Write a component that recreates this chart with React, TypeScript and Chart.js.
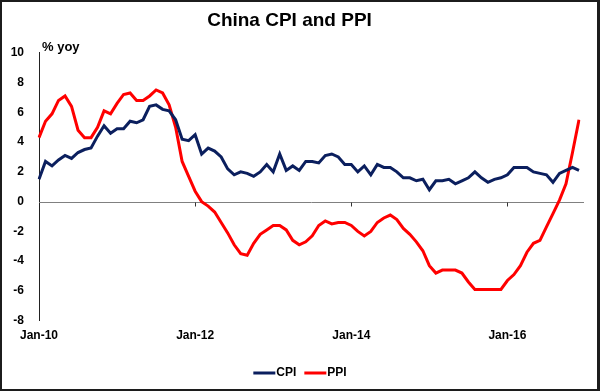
import { useEffect, useRef } from "react";
import { Chart, registerables } from "chart.js";

Chart.register(...registerables);

const years = ["10", "11", "12", "13", "14", "15", "16"];
const monthNames = ["Jan", "Feb", "Mar", "Apr", "May", "Jun", "Jul", "Aug", "Sep", "Oct", "Nov", "Dec"];
const months: string[] = [];
years.forEach((y) => monthNames.forEach((m) => months.push(`${m}-${y}`)));

const tickLabels = ["Jan-10", "Jan-12", "Jan-14", "Jan-16"];
const yTicks = { min: -8, max: 10, step: 2 };
const yUnit = "% yoy";
const title = "China CPI and PPI";

const cpi = [
  1.5, 2.7, 2.4, 2.8, 3.1, 2.9, 3.3, 3.5, 3.6, 4.4, 5.1, 4.6,
  4.9, 4.9, 5.4, 5.3, 5.5, 6.4, 6.5, 6.2, 6.1, 5.5, 4.2, 4.1,
  4.5, 3.2, 3.6, 3.4, 3.0, 2.2, 1.8, 2.0, 1.9, 1.7, 2.0, 2.5,
  2.0, 3.2, 2.1, 2.4, 2.1, 2.7, 2.7, 2.6, 3.1, 3.2, 3.0, 2.5,
  2.5, 2.0, 2.4, 1.8, 2.5, 2.3, 2.3, 2.0, 1.6, 1.6, 1.4, 1.5,
  0.8, 1.4, 1.4, 1.5, 1.2, 1.4, 1.6, 2.0, 1.6, 1.3, 1.5, 1.6,
  1.8, 2.3, 2.3, 2.3, 2.0, 1.9, 1.8, 1.3, 1.9, 2.1, 2.3, 2.1,
];

const ppi = [
  4.3, 5.4, 5.9, 6.8, 7.1, 6.4, 4.8, 4.3, 4.3, 5.0, 6.1, 5.9,
  6.6, 7.2, 7.3, 6.8, 6.8, 7.1, 7.5, 7.3, 6.5, 5.0, 2.7, 1.7,
  0.7, 0.0, -0.3, -0.7, -1.4, -2.1, -2.9, -3.5, -3.6, -2.8, -2.2, -1.9,
  -1.6, -1.6, -1.9, -2.6, -2.9, -2.7, -2.3, -1.6, -1.3, -1.5, -1.4, -1.4,
  -1.6, -2.0, -2.3, -2.0, -1.4, -1.1, -0.9, -1.2, -1.8, -2.2, -2.7, -3.3,
  -4.3, -4.8, -4.6, -4.6, -4.6, -4.8, -5.4, -5.9, -5.9, -5.9, -5.9, -5.9,
  -5.3, -4.9, -4.3, -3.4, -2.8, -2.6, -1.7, -0.8, 0.1, 1.2, 3.3, 5.5,
];

const seriesNames = ["CPI", "PPI"];
const seriesColors = ["#0b1f5e", "#ff0000"];

const FONT = "'Liberation Sans', Arial, sans-serif";

const overlayPlugin = {
  id: "overlay",
  beforeDatasetsDraw(chart: any) {
    const { ctx, chartArea, scales } = chart;
    const y0 = Math.round(scales.y.getPixelForValue(0)) + 0.5;
    ctx.save();
    ctx.strokeStyle = "#808080";
    ctx.lineWidth = 1;
    ctx.beginPath();
    ctx.moveTo(chartArea.left, y0);
    ctx.lineTo(chartArea.right + 5, y0);
    ctx.stroke();
    ctx.strokeStyle = "#333";
    months.forEach((m, i) => {
      if (i > 0 && tickLabels.includes(m)) {
        const x = Math.round(scales.x.getPixelForValue(i)) + 0.5;
        ctx.beginPath();
        ctx.moveTo(x, y0);
        ctx.lineTo(x, y0 + 4);
        ctx.stroke();
      }
    });
    ctx.restore();
  },
  afterDraw(chart: any) {
    const { ctx } = chart;
    ctx.save();
    ctx.fillStyle = "#000";
    ctx.font = `bold 13px ${FONT}`;
    ctx.textAlign = "left";
    ctx.textBaseline = "middle";
    ctx.fillText(yUnit, 42, 47);

    // legend
    ctx.font = `bold 12px ${FONT}`;
    const lineLen = 22;
    const gap = 1;
    const itemGap = 8;
    const widths = seriesNames.map((n) => lineLen + gap + ctx.measureText(n).width);
    const total = widths.reduce((a, b) => a + b, 0) + itemGap * (widths.length - 1);
    let x = 300 - total / 2;
    const ly = 373;
    seriesNames.forEach((n, i) => {
      ctx.strokeStyle = seriesColors[i];
      ctx.lineWidth = 3;
      ctx.beginPath();
      ctx.moveTo(x, ly);
      ctx.lineTo(x + lineLen, ly);
      ctx.stroke();
      ctx.fillStyle = "#000";
      ctx.fillText(n, x + lineLen + gap, ly);
      x += widths[i] + itemGap;
    });
    ctx.restore();
  },
};

export default function App() {
  const ref = useRef<HTMLCanvasElement | null>(null);

  useEffect(() => {
    if (!ref.current) return;
    const chart = new Chart(ref.current, {
      type: "line",
      data: {
        labels: months,
        datasets: [
          {
            label: seriesNames[0],
            data: cpi,
            borderColor: seriesColors[0],
            backgroundColor: seriesColors[0],
            borderWidth: 3,
            pointRadius: 0,
            tension: 0,
          },
          {
            label: seriesNames[1],
            data: ppi,
            borderColor: seriesColors[1],
            backgroundColor: seriesColors[1],
            borderWidth: 3,
            pointRadius: 0,
            tension: 0,
          },
        ],
      },
      options: {
        responsive: false,
        animation: false,
        layout: { padding: { left: 0, right: 21, top: 0, bottom: 0 } },
        plugins: {
          legend: { display: false },
          tooltip: { enabled: false },
          title: {
            display: true,
            text: title,
            color: "#000",
            font: { family: FONT, size: 19, weight: "bold" },
            padding: { top: 9, bottom: 21 },
          },
        },
        scales: {
          x: {
            type: "category",
            offset: false,
            grid: { display: false, drawTicks: false },
            border: { display: false },
            afterFit(scale: any) {
              scale.height = 70.3;
            },
            ticks: {
              autoSkip: false,
              maxRotation: 0,
              minRotation: 0,
              padding: 8,
              color: "#000",
              font: { family: FONT, size: 12, weight: "bold" },
              callback(_v: any, i: number) {
                return tickLabels.includes(months[i]) ? months[i] : null;
              },
            },
          },
          y: {
            min: yTicks.min,
            max: yTicks.max,
            grid: { display: false, drawTicks: false },
            border: { display: true, color: "#222", width: 1 },
            afterFit(scale: any) {
              scale.width = 39;
            },
            ticks: {
              stepSize: yTicks.step,
              padding: 15,
              color: "#000",
              font: { family: FONT, size: 12, weight: "bold" },
            },
          },
        },
      },
      plugins: [overlayPlugin],
    });
    return () => chart.destroy();
  }, []);

  return (
    <div style={{ position: "fixed", left: 0, top: 0, width: 600, height: 391, background: "#fff" }}>
      <canvas ref={ref} width={600} height={391} style={{ position: "absolute", left: 0, top: 0, width: 600, height: 391 }} />
      <div
        style={{
          position: "absolute",
          left: 0,
          top: 0,
          width: 600,
          height: 391,
          boxSizing: "border-box",
          borderStyle: "solid",
          borderColor: "#1c1c1c",
          borderWidth: "2px 3px 2px 2px",
          pointerEvents: "none",
        }}
      />
    </div>
  );
}
